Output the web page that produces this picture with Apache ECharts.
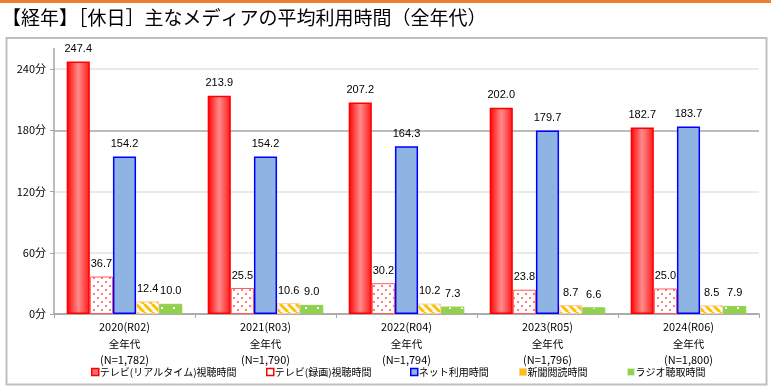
<!DOCTYPE html>
<html><head><meta charset="utf-8">
<script src="https://cdn.jsdelivr.net/npm/echarts@6/dist/echarts.min.js"></script>
<style>html,body{margin:0;padding:0;background:#fff;}#c{width:771px;height:388px;}</style>
</head><body><div id="c"></div>
<script>
const titleText = '【経年】［休日］主なメディアの平均利用時間（全年代）';
const years = ['2020(R02)', '2021(R03)', '2022(R04)', '2023(R05)', '2024(R06)'];
const ageGroup = '全年代';
const sampleN = ['(N=1,782)', '(N=1,790)', '(N=1,794)', '(N=1,796)', '(N=1,800)'];
const seriesNames = ['テレビ(リアルタイム)視聴時間', 'テレビ(録画)視聴時間', 'ネット利用時間', '新聞閲読時間', 'ラジオ聴取時間'];
const yTickValues = [0, 60, 120, 180, 240];
const realtime = [247.4, 213.9, 207.2, 202.0, 182.7];
const recorded = [36.7, 25.5, 30.2, 23.8, 25.0];
const net = [154.2, 154.2, 164.3, 179.7, 183.7];
const news = [12.4, 10.6, 10.2, 8.7, 8.5];
const radio = [10.0, 9.0, 7.3, 6.6, 7.9];

function mk(w, h, draw) { const c = document.createElement('canvas'); c.width = w; c.height = h; const g = c.getContext('2d'); draw(g); return c; }
const dotPat = mk(8, 8, g => { g.fillStyle = '#fff'; g.fillRect(0,0,8,8); g.fillStyle = '#FF7C80'; g.fillRect(1,1,2,2); g.fillRect(5,5,2,2); });
const stripePat = mk(8, 8, g => { g.fillStyle = '#fff'; g.fillRect(0,0,8,8); g.strokeStyle = '#FFC000'; g.lineWidth = 3;
  for (let k = -8; k <= 16; k += 8) { g.beginPath(); g.moveTo(k, 0); g.lineTo(k + 8, 8); g.stroke(); } });
const greenPat = mk(12, 12, g => { g.fillStyle = '#92D050'; g.fillRect(0,0,12,12); g.fillStyle = '#fff'; g.fillRect(5,7,2,2); });

const numFont = "'Liberation Sans Narrow','Liberation Sans',sans-serif";
const jpFont = "'Liberation Sans Narrow','Noto Sans CJK JP',sans-serif";

const redGrad = { type: 'linear', x: 0, y: 0, x2: 1, y2: 0, colorStops: [
  { offset: 0, color: '#FF0000' }, { offset: 0.5, color: '#FF8C8C' }, { offset: 1, color: '#FF1515' }] };

const styles = [
  { color: redGrad, borderColor: '#FF0000', borderWidth: 1.5 },
  { color: { image: dotPat, repeat: 'repeat' }, borderColor: '#FF5B5B', borderWidth: 1 },
  { color: '#8DB4E2', borderColor: '#0000FF', borderWidth: 1.5 },
  { color: { image: stripePat, repeat: 'repeat' }, borderColor: '#F8CBAD', borderWidth: 1 },
  { color: { image: greenPat, repeat: 'repeat' }, borderColor: '#92D050', borderWidth: 1 }
];
const legendStyles = [
  { color: '#FF7070', borderColor: '#FF0000', borderWidth: 1.5 },
  { color: '#ffffff', borderColor: '#FF0000', borderWidth: 1.5 },
  { color: '#8DB4E2', borderColor: '#0000FF', borderWidth: 1.5 },
  { color: '#FFC000', borderColor: '#F8CBAD', borderWidth: 1 },
  { color: '#92D050', borderColor: '#D8EFC0', borderWidth: 1 }
];
const legendLefts = [86, 261, 405, 514, 622];
const allData = [realtime, recorded, net, news, radio];

const chart = echarts.init(document.getElementById('c'), null, { renderer: 'canvas' });
chart.setOption({
  animation: false,
  backgroundColor: '#fff',
  graphic: [
    { type: 'rect', shape: { x: 0, y: 0, width: 771, height: 3 }, style: { fill: '#ED7D31' }, silent: true },
    { type: 'rect', shape: { x: 6.5, y: 38, width: 760, height: 346.5 }, style: { fill: 'none', stroke: '#BFBFBF', lineWidth: 2 }, silent: true, z: -1 },
    { type: 'text', left: 2, top: 8, style: { text: titleText, font: "19px 'Noto Sans CJK JP'", fill: '#000' } }
  ],
  grid: { left: 54, right: 12, top: 48.6, bottom: 74, containLabel: false },
  legend: seriesNames.map((n, i) => ({
    left: legendLefts[i], top: 362, itemWidth: 7, itemHeight: 7, icon: 'rect',
    textStyle: { fontFamily: "'Noto Sans CJK JP'", fontSize: 10, color: '#000', padding: [0,0,0,-4] },
    data: [{ name: n, itemStyle: legendStyles[i] }]
  })),
  xAxis: {
    type: 'category', data: years,
    axisLine: { lineStyle: { color: '#A6A6A6', width: 1.5 } },
    axisTick: { show: true, length: 4, lineStyle: { color: '#A6A6A6' } },
    axisLabel: {
      margin: 5, color: '#000', fontFamily: jpFont, fontSize: 11, lineHeight: 16.5,
      formatter: (v, i) => v + '\n{a|' + ageGroup + '}\n' + sampleN[i],
      rich: { a: { fontFamily: "'Noto Sans CJK JP'", fontSize: 10.5, lineHeight: 16.5, color: '#000' } }
    }
  },
  yAxis: {
    type: 'value', min: 0, max: 260, interval: 20,
    axisLine: { show: true, lineStyle: { color: '#A6A6A6', width: 1.5 } },
    axisTick: { show: true, length: 4, customValues: yTickValues, lineStyle: { color: '#A6A6A6' } },
    axisLabel: { margin: 8, color: '#000', fontFamily: jpFont, fontSize: 11, customValues: yTickValues,
      formatter: v => (v % 60 === 0 && v <= 240) ? v + '分' : '' },
    splitLine: { show: true, lineStyle: { color: ['#A6A6A6', '#E3E3E3', '#E3E3E3'], width: 1.5 } }
  },
  series: allData.map((d, i) => ({
    name: seriesNames[i], type: 'bar', data: d,
    barGap: '0%', barCategoryGap: '18%',
    itemStyle: styles[i],
    label: { show: true, position: 'top', distance: 7, color: '#000', fontFamily: numFont, fontSize: 11,
      formatter: p => p.value.toFixed(1) }
  }))
});
</script></body></html>
